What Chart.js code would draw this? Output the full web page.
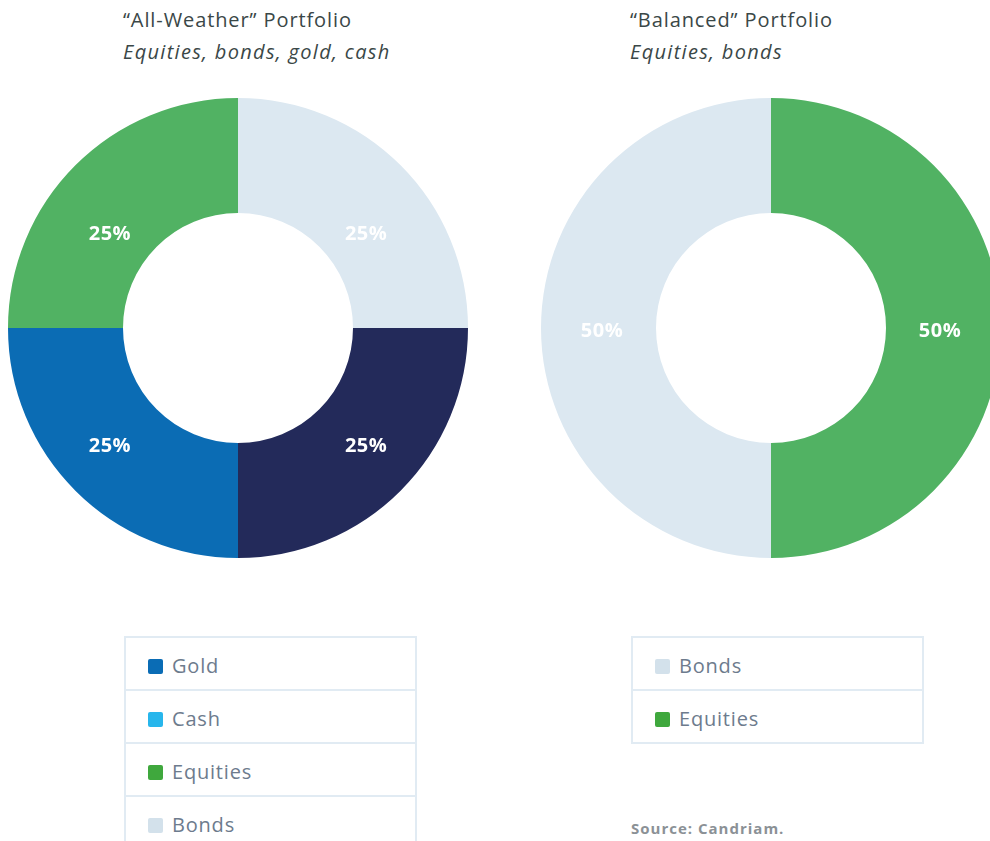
<!DOCTYPE html>
<html lang="en">
<head>
  <meta charset="UTF-8" />
  <title>All-Weather vs Balanced Portfolio</title>
  <script src="https://cdn.jsdelivr.net/npm/chart.js"></script>
  <style>
    html, body {
      margin: 0;
      padding: 0;
      width: 990px;
      height: 841px;
      overflow: hidden;
      background: #fff;
      font-family: "Open Sans", sans-serif;
    }

    .title {
      position: absolute;
      font-size: 20px;
      color: #3a4747;
      line-height: 32px;
      letter-spacing: 0.9px;
    }
    .title .sub { font-style: italic; letter-spacing: 1.3px; }

    .chartbox {
      position: absolute;
      top: 98px;
      width: 460px;
      height: 460px;
    }

    .legend {
      position: absolute;
      top: 636px;
      width: 293px;
      border-collapse: collapse;
    }
    .legend td {
      border: 2px solid #e1ebf3;
      height: 53px;
      padding: 4px 0 0 22px;
      box-sizing: border-box;
      font-size: 20px;
      letter-spacing: 0.8px;
      color: #6d7b8d;
    }
    .legend .sw {
      display: inline-block;
      width: 15px;
      height: 15px;
      border-radius: 2px;
      margin-right: 9px;
      vertical-align: -1px;
    }

    .source {
      position: absolute;
      left: 631px;
      top: 818px;
      font-size: 15px;
      font-weight: bold;
      letter-spacing: 1px;
      color: #8b9196;
    }
  </style>
</head>
<body>
  <div class="title" style="left:123px; top:4px;">
    <div>“All-Weather” Portfolio</div>
    <div class="sub">Equities, bonds, gold, cash</div>
  </div>
  <div class="title" style="left:630px; top:4px;">
    <div>“Balanced” Portfolio</div>
    <div class="sub">Equities, bonds</div>
  </div>

  <div class="chartbox" style="left:8px;"><canvas id="allWeather" width="460" height="460"></canvas></div>
  <div class="chartbox" style="left:541px;"><canvas id="balanced" width="460" height="460"></canvas></div>

  <table class="legend" id="legendLeft" style="left:124px;"></table>
  <table class="legend" id="legendRight" style="left:631px;"></table>

  <div class="source">Source: Candriam.</div>

  <script>
    // slices clockwise from 12 o'clock
    const allWeatherLabels = ['Bonds', 'Cash', 'Gold', 'Equities'];
    const allWeatherValues = [25, 25, 25, 25];
    const allWeatherColors = ['#dce8f1', '#232a5a', '#0b6cb4', '#51b263'];

    const balancedLabels = ['Equities', 'Bonds'];
    const balancedValues = [50, 50];
    const balancedColors = ['#51b263', '#dce8f1'];

    // legend entries as shown under each chart
    const legendLeftLabels = ['Gold', 'Cash', 'Equities', 'Bonds'];
    const legendLeftColors = ['#0a6cb5', '#27b6ec', '#3fa83d', '#d3e1eb'];
    const legendRightLabels = ['Bonds', 'Equities'];
    const legendRightColors = ['#d3e1eb', '#3fa83d'];

    // white % labels on the ring
    const sliceLabels = {
      id: 'sliceLabels',
      afterDatasetsDraw(chart, args, opts) {
        const ctx = chart.ctx;
        const meta = chart.getDatasetMeta(0);
        const ds = chart.data.datasets[0];
        ctx.save();
        ctx.fillStyle = '#fff';
        ctx.font = 'bold 20px "Open Sans", sans-serif';
        ctx.letterSpacing = '0.5px';
        ctx.textAlign = 'center';
        ctx.textBaseline = 'middle';
        meta.data.forEach((arc, i) => {
          const p = arc.getProps(['x', 'y', 'startAngle', 'endAngle', 'innerRadius', 'outerRadius'], true);
          const a = (p.startAngle + p.endAngle) / 2;
          const r = (p.innerRadius + p.outerRadius) / 2;
          const x = p.x + Math.cos(a) * r * opts.rx;
          const y = p.y + Math.sin(a) * r * opts.ry + opts.dy;
          ctx.fillText(ds.data[i] + '%', x, y);
        });
        ctx.restore();
      }
    };

    function makeDoughnut(id, labels, values, colors, labelPos) {
      return new Chart(document.getElementById(id), {
        type: 'doughnut',
        data: {
          labels: labels,
          datasets: [{
            data: values,
            backgroundColor: colors,
            borderWidth: 0
          }]
        },
        options: {
          responsive: false,
          animation: false,
          cutout: '50%',
          layout: { padding: 0 },
          plugins: {
            legend: { display: false },
            tooltip: { enabled: false },
            sliceLabels: labelPos
          }
        },
        plugins: [sliceLabels]
      });
    }

    function makeLegend(id, labels, colors) {
      const table = document.getElementById(id);
      labels.forEach((l, i) => {
        const tr = document.createElement('tr');
        tr.innerHTML = '<td><span class="sw" style="background:' + colors[i] + '"></span>' + l + '</td>';
        table.appendChild(tr);
      });
    }

    makeDoughnut('allWeather', allWeatherLabels, allWeatherValues, allWeatherColors, { rx: 1.05, ry: 0.87, dy: 12 });
    makeDoughnut('balanced', balancedLabels, balancedValues, balancedColors, { rx: 0.98, ry: 1, dy: 3 });
    makeLegend('legendLeft', legendLeftLabels, legendLeftColors);
    makeLegend('legendRight', legendRightLabels, legendRightColors);
  </script>
</body>
</html>
